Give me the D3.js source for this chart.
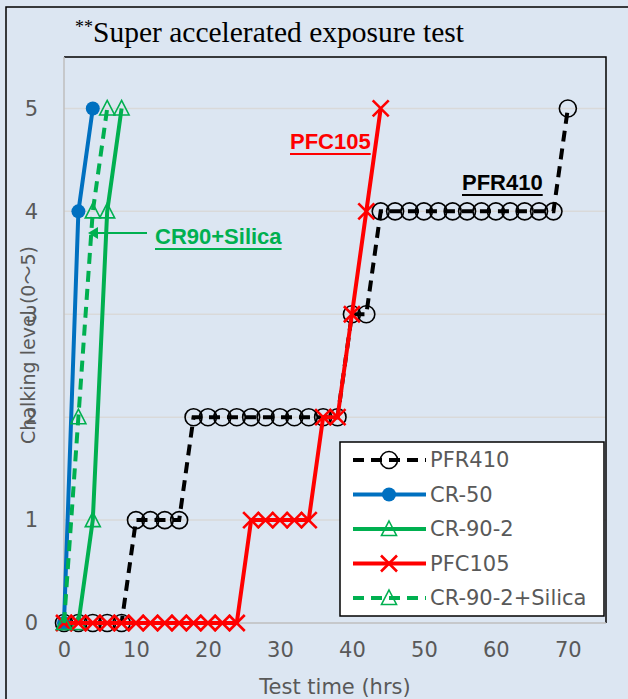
<!DOCTYPE html>
<html>
<head>
<meta charset="utf-8">
<script src="https://cdn.jsdelivr.net/npm/d3@7"></script>
<style>
  body { margin: 0; background: #fff; }
  svg { display: block; }
</style>
</head>
<body>
<div id="chart"></div>
<script>
// data: test time (hrs) and chalking level
const pfr410Time = [0, 2, 4, 6, 8, 10, 12, 14, 16, 18, 20, 22, 24, 26, 28, 30, 32, 34, 36, 38, 40, 42, 44, 46, 48, 50, 52, 54, 56, 58, 60, 62, 64, 66, 68, 70]
const pfr410Level = [0, 0, 0, 0, 0, 1, 1, 1, 1, 2, 2, 2, 2, 2, 2, 2, 2, 2, 2, 2, 3, 3, 4, 4, 4, 4, 4, 4, 4, 4, 4, 4, 4, 4, 4, 5]

const cr50Time = [0, 2, 4]
const cr50Level = [0, 4, 5]

const cr902Time = [0, 2, 4, 6, 8]
const cr902Level = [0, 0, 1, 4, 5]

const pfc105Time = [0, 2, 4, 6, 8, 10, 12, 14, 16, 18, 20, 22, 24, 26, 28, 30, 32, 34, 36, 38, 40, 42, 44]
const pfc105Level = [0, 0, 0, 0, 0, 0, 0, 0, 0, 0, 0, 0, 0, 1, 1, 1, 1, 1, 2, 2, 3, 4, 5]

const silicaTime = [0, 2, 4, 6]
const silicaLevel = [0, 2, 4, 5]

const xTicks = [0, 10, 20, 30, 40, 50, 60, 70]
const yTicks = [0, 1, 2, 3, 4, 5]

const seriesNames = ['PFR410', 'CR-50', 'CR-90-2', 'PFC105', 'CR-90-2+Silica']

const W = 628
const H = 699
const plot = { left: 64, right: 606, top: 57, bottom: 623 }

const svg = d3
  .select('#chart')
  .append('svg')
  .attr('width', W)
  .attr('height', H)

// chart background and outer frame (right/bottom run off the picture)
svg.append('rect')
  .attr('x', 0).attr('y', 0).attr('width', W).attr('height', H)
  .attr('fill', '#dce6f2')
svg.append('rect')
  .attr('x', 6).attr('y', 7).attr('width', W + 20).attr('height', H + 20)
  .attr('fill', 'none').attr('stroke', '#000').attr('stroke-width', 1.5)

const x = d3.scaleLinear().domain([0, 75.3]).range([plot.left, plot.right])
const y = d3.scaleLinear().domain([0, 5.5]).range([plot.bottom, plot.top])

// gridlines
svg.append('g')
  .selectAll('line')
  .data(yTicks.filter(d => d > 0))
  .enter()
  .append('line')
  .attr('x1', plot.left).attr('x2', plot.right)
  .attr('y1', d => y(d)).attr('y2', d => y(d))
  .attr('stroke', '#d9d9d9').attr('stroke-width', 1.5)

// plot frame: black top/right, grey axis lines left/bottom
svg.append('path')
  .attr('d', `M${plot.left},${plot.top}H${plot.right}V${plot.bottom}`)
  .attr('fill', 'none').attr('stroke', '#000').attr('stroke-width', 1.5)
svg.append('path')
  .attr('d', `M${plot.left},${plot.top}V${plot.bottom}H${plot.right}`)
  .attr('fill', 'none').attr('stroke', '#bfbfbf').attr('stroke-width', 1.5)

const tickFont = "'DejaVu Sans', 'Noto Sans CJK JP', sans-serif"
const tickColor = '#595959'

const xAxis = d3.axisBottom(x).tickValues(xTicks).tickFormat(d3.format('d')).tickSize(0).tickPadding(19)
svg.append('g')
  .attr('class', 'axis x-axis')
  .attr('transform', 'translate(0,' + plot.bottom + ')')
  .call(xAxis)
  .call(g => g.select('.domain').remove())
  .selectAll('text')
  .attr('font-family', tickFont)
  .attr('font-size', 21)
  .attr('fill', tickColor)

const yAxis = d3.axisLeft(y).tickValues(yTicks).tickFormat(d3.format('d')).tickSize(0).tickPadding(26)
svg.append('g')
  .attr('class', 'axis y-axis')
  .attr('transform', 'translate(' + plot.left + ',0)')
  .call(yAxis)
  .call(g => g.select('.domain').remove())
  .selectAll('text')
  .attr('font-family', tickFont)
  .attr('font-size', 21)
  .attr('fill', tickColor)

// axis titles
svg.append('text')
  .text('Test time (hrs)')
  .attr('x', 335).attr('y', 694)
  .attr('text-anchor', 'middle')
  .attr('font-family', tickFont).attr('font-size', 21)
  .attr('fill', tickColor)

svg.append('text')
  .text('Chalking level (0～5)')
  .attr('transform', 'translate(35,345) rotate(-90)')
  .attr('text-anchor', 'middle')
  .attr('font-family', tickFont).attr('font-size', 19)
  .attr('fill', tickColor)

// title
const title = svg.append('text')
  .attr('x', 75).attr('y', 42)
  .attr('font-family', "'Liberation Serif', 'DejaVu Serif', serif")
  .attr('fill', '#000')
title.append('tspan').text('**').attr('font-size', 18).attr('dy', -9)
title.append('tspan').text('Super accelerated exposure test').attr('font-size', 29.5).attr('dy', 9)

// series
const line = d3.line().x(d => x(d.t)).y(d => y(d.v))
const zip = (ts, vs) => ts.map((t, i) => ({ t: t, v: vs[i] }))

const series = [
  { name: seriesNames[0], data: zip(pfr410Time, pfr410Level), color: '#000000', dash: '11,7', marker: 'circle' },
  { name: seriesNames[1], data: zip(cr50Time, cr50Level), color: '#0070c0', dash: null, marker: 'dot' },
  { name: seriesNames[2], data: zip(cr902Time, cr902Level), color: '#00b050', dash: null, marker: 'triangle' },
  { name: seriesNames[3], data: zip(pfc105Time, pfc105Level), color: '#ff0000', dash: null, marker: 'cross' },
  { name: seriesNames[4], data: zip(silicaTime, silicaLevel), color: '#00b050', dash: '11,7', marker: 'triangle' }
]

function drawMarker(g, type, color) {
  if (type === 'circle') {
    g.append('circle').attr('r', 8.5)
      .attr('fill', 'none').attr('stroke', color).attr('stroke-width', 1.6)
  } else if (type === 'dot') {
    g.append('circle').attr('r', 7).attr('fill', color)
  } else if (type === 'triangle') {
    g.append('path').attr('d', 'M0,-8L7.5,6.5L-7.5,6.5Z')
      .attr('fill', 'none').attr('stroke', color).attr('stroke-width', 1.6)
  } else if (type === 'cross') {
    g.append('path').attr('d', 'M-8,-8L8,8M-8,8L8,-8')
      .attr('fill', 'none').attr('stroke', color).attr('stroke-width', 2.6)
  }
}

series.forEach(s => {
  const layer = svg.append('g').attr('class', 'layer')
  layer.append('path')
    .datum(s.data)
    .attr('d', line)
    .attr('fill', 'none')
    .attr('stroke', s.color)
    .attr('stroke-width', 4)
    .attr('stroke-dasharray', s.dash)
  layer.selectAll('.pt')
    .data(s.data)
    .enter()
    .append('g')
    .attr('class', 'pt')
    .attr('transform', d => 'translate(' + x(d.t) + ',' + y(d.v) + ')')
    .each(function() { drawMarker(d3.select(this), s.marker, s.color) })
})

// annotations
const boldFont = "'Liberation Sans', Arial, sans-serif"
function label(text, lx, ly, color) {
  const t = svg.append('text')
    .text(text)
    .attr('x', lx).attr('y', ly)
    .attr('font-family', boldFont).attr('font-weight', 'bold').attr('font-size', 22)
    .attr('fill', color)
  const w = t.node().getComputedTextLength()
  svg.append('line')
    .attr('x1', lx).attr('x2', lx + w)
    .attr('y1', ly + 5).attr('y2', ly + 5)
    .attr('stroke', color).attr('stroke-width', 2)
}
label('PFC105', 290, 149, '#ff0000')
label('PFR410', 462, 190, '#000000')
label('CR90+Silica', 155, 244, '#00b050')

// arrow to the silica line
svg.append('line')
  .attr('x1', 147).attr('y1', 233).attr('x2', 96).attr('y2', 233)
  .attr('stroke', '#00b050').attr('stroke-width', 2)
svg.append('path')
  .attr('d', 'M88,233L98,227L98,239Z')
  .attr('fill', '#00b050')

// legend
const legend = svg.append('g').attr('transform', 'translate(340,442)')
legend.append('rect')
  .attr('width', 264).attr('height', 174)
  .attr('fill', '#fff').attr('stroke', '#000').attr('stroke-width', 1.5)

const item = legend.selectAll('.item')
  .data(series)
  .enter()
  .append('g')
  .attr('class', 'item')
  .attr('transform', (d, i) => 'translate(0,' + (18 + i * 34.5) + ')')

item.append('line')
  .attr('x1', 13).attr('x2', 86)
  .attr('stroke', d => d.color)
  .attr('stroke-width', 4)
  .attr('stroke-dasharray', d => d.dash)

item.append('g')
  .attr('transform', 'translate(49,0)')
  .each(function(d) { drawMarker(d3.select(this), d.marker, d.color) })

item.append('text')
  .text(d => d.name)
  .attr('x', 90).attr('dy', '0.35em')
  .attr('font-family', tickFont).attr('font-size', 21)
  .attr('fill', tickColor)
</script>
</body>
</html>
